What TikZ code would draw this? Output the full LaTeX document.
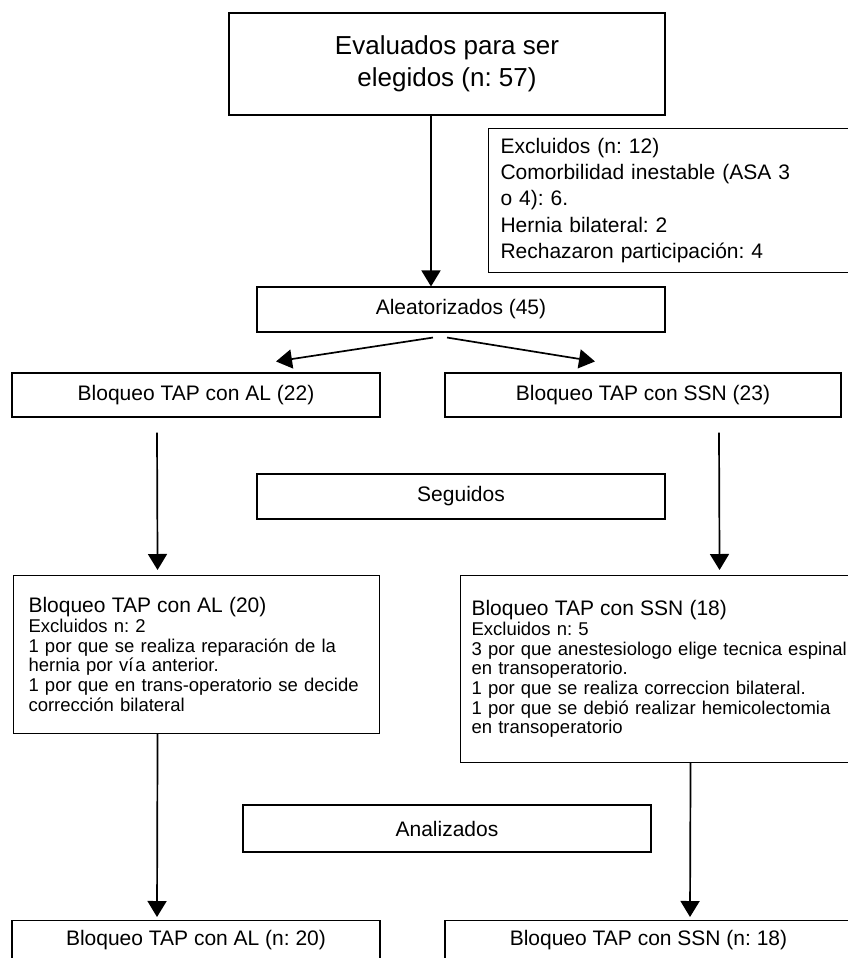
\documentclass[tikz,border=0pt]{standalone}
\usepackage{fontspec}
\setmainfont{Liberation Sans}
\usetikzlibrary{arrows.meta,calc}
\frenchspacing

\begin{document}
\begin{tikzpicture}[x=1pt,y=-1pt,
    box/.style={draw,line width=1.1pt,inner sep=0pt,font=\fontsize{21}{26.2}\selectfont},
    arr/.style={line width=1.7pt,-{Triangle[width=19pt,length=16pt]}}]
  \useasboundingbox (0,0) rectangle (848,958);
  \clip (0,0) rectangle (848,958);
  % screening and exclusions
  \node[box,minimum width=436pt,minimum height=102pt,align=center,
        font=\fontsize{26}{32}\selectfont] (eval) at (447,64)
    {Evaluados para ser\\elegidos (n: 57)};
  \node[box,anchor=north west,minimum width=372pt,minimum height=144pt,
        text width=348pt,inner xsep=12pt,align=left] (excl) at (488,128)
    {Excluidos (n: 12)\\Comorbilidad inestable (ASA 3\\o 4): 6.\\
     Hernia bilateral: 2\\Rechazaron participación: 4};
  % randomisation
  \node[box,minimum width=408pt,minimum height=45pt] (alea) at (461,309.5)
    {Aleatorizados (45)};
  \node[box,minimum width=368pt,minimum height=44pt] (al22) at (196,395)
    {Bloqueo TAP con AL (22)};
  \node[box,minimum width=396pt,minimum height=44pt] (ssn23) at (643,395)
    {Bloqueo TAP con SSN (23)};
  \node[box,minimum width=408pt,minimum height=45pt] (seg) at (461,496.5)
    {Seguidos};
  % follow-up
  \node[box,anchor=north west,minimum width=366pt,minimum height=158pt,
        text width=336pt,inner xsep=15pt,align=left,
        font=\fontsize{18.5}{19.7}\selectfont] (al20) at (13,575)
    {{\fontsize{21}{19.7}\selectfont Bloqueo TAP con AL (20)}\\
     Excluidos n: 2\\
     1 por que se realiza reparación de la\\
     hernia por ví\kern2pt a anterior.\\
     1 por que en trans-operatorio se decide\\
     corrección bilateral};
  \node[box,anchor=north west,minimum width=402pt,minimum height=187pt,
        text width=380pt,inner xsep=11pt,align=left,
        font=\fontsize{18.5}{19.7}\selectfont] (ssn18) at (460,575)
    {{\fontsize{21}{19.7}\selectfont Bloqueo TAP con SSN (18)}\\
     Excluidos n: 5\\
     3 por que anestesiologo elige tecnica espinal\\
     en transoperatorio.\\
     1 por que se realiza correccion bilateral.\\
     1 por que se debió realizar hemicolectomia\\
     en transoperatorio};
  % analysis
  \node[box,minimum width=408pt,minimum height=47pt] (anal) at (447,828.5)
    {Analizados};
  \node[box,anchor=north,minimum width=368pt,inner ysep=10pt,
        text height=15pt,text depth=30pt] (al20n) at (196,920)
    {Bloqueo TAP con AL (n: 20)};
  \node[box,anchor=north,minimum width=407pt,inner ysep=10pt,
        text height=15pt,text depth=30pt] (ssn18n) at (648.5,920)
    {Bloqueo TAP con SSN (n: 18)};
  % arrows
  \draw[arr] ([xshift=-16pt]eval.south) -- ([xshift=-30pt]alea.north);
  \draw[arr] ($(alea.south)+(-28,5)$) -- ($(al22.north)+(80,-11)$);
  \draw[arr] ($(alea.south)+(-14,5)$) -- ($(ssn23.north)+(-48,-11)$);
  \draw[arr] ($(al22.south)+(-39,15)$) -- ($(al20.north)+(-39,-5)$);
  \draw[arr] ($(ssn23.south)+(76,15)$) -- ($(ssn18.north)+(58,-5)$);
  \draw[arr] ($(al20.south)+(-39,0)$) -- ($(al20n.north)+(-39,-3)$);
  \draw[arr] ($(ssn18.south)+(29,0)$) -- ($(ssn18n.north)+(41.5,-3)$);
\end{tikzpicture}
\end{document}
